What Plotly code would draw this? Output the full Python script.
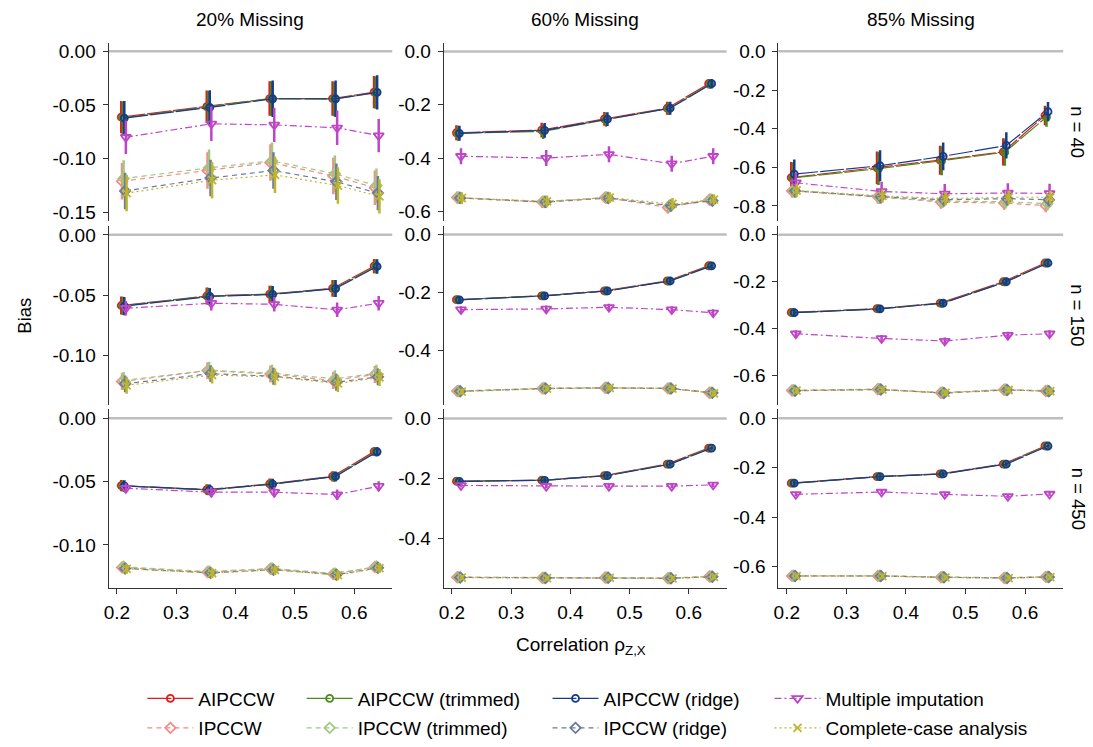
import plotly.graph_objects as go

# ---------------- data ----------------
rho = [0.212, 0.356, 0.462, 0.568, 0.638]
missing_labels = ["20% Missing", "60% Missing", "85% Missing"]
n_labels = ["n = 40", "n = 150", "n = 450"]
methods = ["AIPCCW", "IPCCW", "AIPCCW (trimmed)", "IPCCW (trimmed)",
           "AIPCCW (ridge)", "IPCCW (ridge)", "Multiple imputation",
           "Complete-case analysis"]

# bias, one list per panel: n=40 (20%,60%,85%), n=150 (...), n=450 (...)
bias_aipccw = [
    [-0.0613, -0.0515, -0.0440, -0.0440, -0.0380],
    [-0.305, -0.295, -0.253, -0.213, -0.121],
    [-0.653, -0.603, -0.563, -0.520, -0.332],
    [-0.0587, -0.0508, -0.0492, -0.0445, -0.0260],
    [-0.2256, -0.2120, -0.1950, -0.1607, -0.1080],
    [-0.332, -0.316, -0.292, -0.201, -0.121],
    [-0.0531, -0.0563, -0.0518, -0.0458, -0.0263],
    [-0.2100, -0.2066, -0.1910, -0.1527, -0.0990],
    [-0.2627, -0.2360, -0.2253, -0.1853, -0.1120],
]
bias_aipccw_trim = [
    [-0.0620, -0.0520, -0.0440, -0.0445, -0.0385],
    [-0.307, -0.300, -0.256, -0.214, -0.122],
    [-0.655, -0.607, -0.566, -0.522, -0.340],
    [-0.0590, -0.0510, -0.0493, -0.0447, -0.0262],
    [-0.2260, -0.2125, -0.1955, -0.1610, -0.1085],
    [-0.333, -0.317, -0.293, -0.202, -0.122],
    [-0.0533, -0.0565, -0.0520, -0.0460, -0.0265],
    [-0.2103, -0.2069, -0.1913, -0.1530, -0.0993],
    [-0.2630, -0.2363, -0.2256, -0.1856, -0.1123],
]
bias_aipccw_ridge = [
    [-0.0622, -0.0523, -0.0442, -0.0442, -0.0382],
    [-0.307, -0.296, -0.254, -0.213, -0.121],
    [-0.635, -0.592, -0.543, -0.487, -0.312],
    [-0.0592, -0.0512, -0.0495, -0.0446, -0.0263],
    [-0.2262, -0.2122, -0.1952, -0.1608, -0.1082],
    [-0.333, -0.317, -0.292, -0.201, -0.121],
    [-0.0534, -0.0564, -0.0519, -0.0459, -0.0264],
    [-0.2102, -0.2068, -0.1912, -0.1528, -0.0992],
    [-0.2629, -0.2362, -0.2255, -0.1855, -0.1122],
]
bias_ipccw = [
    [-0.1210, -0.1110, -0.1035, -0.1160, -0.1270],
    [-0.548, -0.565, -0.548, -0.585, -0.556],
    [-0.722, -0.752, -0.780, -0.785, -0.798],
    [-0.1219, -0.1128, -0.1156, -0.1210, -0.1160],
    [-0.5425, -0.5330, -0.5310, -0.5330, -0.5480],
    [-0.665, -0.660, -0.675, -0.662, -0.667],
    [-0.1177, -0.1214, -0.1188, -0.1229, -0.1174],
    [-0.5310, -0.5330, -0.5320, -0.5340, -0.5286],
    [-0.6387, -0.6387, -0.6440, -0.6467, -0.6427],
]
bias_ipccw_trim = [
    [-0.1185, -0.1085, -0.1020, -0.1140, -0.1250],
    [-0.548, -0.563, -0.548, -0.580, -0.555],
    [-0.720, -0.755, -0.775, -0.778, -0.788],
    [-0.1210, -0.1125, -0.1150, -0.1195, -0.1150],
    [-0.5420, -0.5325, -0.5305, -0.5325, -0.5475],
    [-0.664, -0.659, -0.674, -0.661, -0.666],
    [-0.1172, -0.1210, -0.1185, -0.1225, -0.1170],
    [-0.5305, -0.5325, -0.5315, -0.5335, -0.5281],
    [-0.6382, -0.6382, -0.6435, -0.6462, -0.6422],
]
bias_ipccw_ridge = [
    [-0.1300, -0.1180, -0.1110, -0.1215, -0.1320],
    [-0.550, -0.565, -0.550, -0.578, -0.560],
    [-0.722, -0.752, -0.768, -0.762, -0.768],
    [-0.1238, -0.1153, -0.1175, -0.1225, -0.1180],
    [-0.5430, -0.5335, -0.5315, -0.5335, -0.5485],
    [-0.666, -0.661, -0.676, -0.663, -0.668],
    [-0.1185, -0.1220, -0.1195, -0.1235, -0.1180],
    [-0.5315, -0.5335, -0.5325, -0.5345, -0.5291],
    [-0.6392, -0.6392, -0.6445, -0.6472, -0.6432],
]
bias_mi = [
    [-0.0800, -0.0675, -0.0685, -0.0712, -0.0785],
    [-0.393, -0.400, -0.386, -0.421, -0.393],
    [-0.680, -0.725, -0.737, -0.733, -0.735],
    [-0.0610, -0.0568, -0.0577, -0.0623, -0.0568],
    [-0.2600, -0.2575, -0.2520, -0.2600, -0.2710],
    [-0.423, -0.443, -0.454, -0.429, -0.423],
    [-0.0552, -0.0583, -0.0583, -0.0602, -0.0536],
    [-0.2240, -0.2264, -0.2264, -0.2264, -0.2220],
    [-0.3080, -0.2987, -0.3080, -0.3160, -0.3067],
]
bias_cc = [
    [-0.1320, -0.1200, -0.1150, -0.1250, -0.1350],
    [-0.550, -0.562, -0.548, -0.572, -0.556],
    [-0.720, -0.748, -0.762, -0.755, -0.755],
    [-0.1250, -0.1165, -0.1180, -0.1235, -0.1185],
    [-0.5440, -0.5340, -0.5310, -0.5340, -0.5500],
    [-0.666, -0.661, -0.675, -0.663, -0.668],
    [-0.1188, -0.1222, -0.1197, -0.1238, -0.1182],
    [-0.5318, -0.5338, -0.5328, -0.5348, -0.5294],
    [-0.6395, -0.6395, -0.6448, -0.6475, -0.6435],
]

# half-widths of the confidence intervals, per panel
ci_aipccw = [
    [0.015, 0.015, 0.016, 0.016, 0.015],
    [0.028, 0.028, 0.026, 0.024, 0.018],
    [0.080, 0.085, 0.075, 0.070, 0.050],
    [0.0075, 0.007, 0.007, 0.007, 0.006],
    [0.012, 0.011, 0.011, 0.010, 0.009],
    [0.018, 0.017, 0.016, 0.013, 0.010],
    [0.0045, 0.0042, 0.0042, 0.004, 0.0035],
    [0.008, 0.007, 0.007, 0.006, 0.005],
    [0.010, 0.009, 0.009, 0.008, 0.006],
]
ci_aipccw_ridge = [
    [0.016, 0.016, 0.017, 0.017, 0.016],
    [0.028, 0.028, 0.026, 0.024, 0.018],
    [0.075, 0.080, 0.072, 0.068, 0.050],
    [0.0075, 0.007, 0.007, 0.007, 0.006],
    [0.012, 0.011, 0.011, 0.010, 0.009],
    [0.018, 0.017, 0.016, 0.013, 0.010],
    [0.0045, 0.0042, 0.0042, 0.004, 0.0035],
    [0.008, 0.007, 0.007, 0.006, 0.005],
    [0.010, 0.009, 0.009, 0.008, 0.006],
]
ci_ipccw = [
    [0.017, 0.017, 0.017, 0.017, 0.016],
    [0.022, 0.022, 0.020, 0.022, 0.020],
    [0.035, 0.035, 0.035, 0.035, 0.035],
    [0.007, 0.007, 0.007, 0.007, 0.007],
    [0.011, 0.011, 0.011, 0.011, 0.011],
    [0.014, 0.014, 0.014, 0.014, 0.014],
    [0.004, 0.004, 0.004, 0.004, 0.004],
    [0.008, 0.008, 0.008, 0.008, 0.008],
    [0.010, 0.010, 0.010, 0.010, 0.010],
]
ci_mi = [
    [0.0155, 0.016, 0.016, 0.016, 0.0155],
    [0.030, 0.030, 0.030, 0.030, 0.030],
    [0.050, 0.050, 0.050, 0.050, 0.050],
    [0.006, 0.006, 0.006, 0.006, 0.006],
    [0.012, 0.012, 0.012, 0.012, 0.012],
    [0.015, 0.015, 0.015, 0.015, 0.015],
    [0.004, 0.004, 0.004, 0.004, 0.004],
    [0.007, 0.007, 0.007, 0.007, 0.007],
    [0.009, 0.009, 0.009, 0.009, 0.009],
]

# y tick values per panel
y_ticks = [
    [0.0, -0.05, -0.10, -0.15], [0.0, -0.2, -0.4, -0.6], [0.0, -0.2, -0.4, -0.6, -0.8],
    [0.0, -0.05, -0.10], [0.0, -0.2, -0.4], [0.0, -0.2, -0.4, -0.6],
    [0.0, -0.05, -0.10], [0.0, -0.2, -0.4], [0.0, -0.2, -0.4, -0.6],
]
x_ticks = [0.2, 0.3, 0.4, 0.5, 0.6]

# ---------------- styling ----------------
series = [
    (bias_aipccw, ci_aipccw),
    (bias_ipccw, ci_ipccw),
    (bias_aipccw_trim, ci_aipccw),
    (bias_ipccw_trim, ci_ipccw),
    (bias_aipccw_ridge, ci_aipccw_ridge),
    (bias_ipccw_ridge, ci_ipccw),
    (bias_mi, ci_mi),
    (bias_cc, ci_ipccw),
]
colors = ["#E31A1C", "#F38B87", "#4A8B1C", "#A2C880", "#163A8C", "#6B7B9E", "#BD45C6", "#BDB52E"]
dashes = ["24px,2px", "5px,4px", "24px,2px", "5px,4px", "24px,2px", "5px,4px", "7px,3px,2px,3px", "2px,3px"]
symbols = ["circle-open", "diamond-open", "circle-open", "diamond-open", "circle-open",
           "diamond-open", "triangle-down-open", "x-thin-open"]
msizes = [7, 8, 7, 8, 7, 8, 9, 8]
dodge = [-0.0045, -0.0032, -0.0019, -0.0006, 0.0006, 0.0019, 0.0032, 0.0045]

W, H = 1093, 747
col_px = [(104, 389), (440.7, 725), (777, 1063)]
row_px = [(42, 222), (227, 408), (413, 594)]
x_range = [0.186, 0.664]
y_ranges = [
    [-0.158, 0.0073], [-0.636, 0.030], [-0.878, 0.041],
    [-0.141, 0.0074], [-0.589, 0.030], [-0.725, 0.037],
    [-0.134, 0.007], [-0.567, 0.030], [-0.688, 0.036],
]
FONT = "Liberation Sans, Arial, sans-serif"
FS = 19

# legend positions (text start x, row center y) for each method
leg_pos = [(200, 706), (200, 736), (360, 706), (360, 736),
           (607, 706), (607, 736), (830, 706), (830, 736)]

fig = go.Figure()
layout = dict(
    width=W, height=H, margin=dict(l=0, r=0, t=0, b=0),
    plot_bgcolor="white", paper_bgcolor="white",
    font=dict(family=FONT, size=FS, color="black"),
    shapes=[], annotations=[],
)


def fmt(v, dec):
    s = f"{v:.{dec}f}"
    return s.lstrip("-") if abs(v) < 1e-12 else s


for k in range(9):
    r, c = divmod(k, 3)
    sfx = "" if k == 0 else str(k + 1)
    x0, x1 = col_px[c]
    y0, y1 = row_px[r]
    layout["xaxis" + sfx] = dict(
        domain=[x0 / W, x1 / W], range=x_range, anchor="y" + sfx,
        showgrid=False, zeroline=False,
        showline=(r == 2), linecolor="#333", linewidth=1,
        ticks="outside" if r == 2 else "", ticklen=5, tickcolor="#333",
        showticklabels=(r == 2), tickvals=x_ticks,
        ticktext=[fmt(v, 1) for v in x_ticks], ticklabelstandoff=2,
        tickfont=dict(size=FS, color="black"),
    )
    dec = 2 if c == 0 else 1
    layout["yaxis" + sfx] = dict(
        domain=[1 - y1 / H, 1 - y0 / H], range=y_ranges[k], anchor="x" + sfx,
        showgrid=False, zeroline=False,
        showline=True, linecolor="#333", linewidth=1,
        ticks="outside", ticklen=5, tickcolor="#333",
        tickvals=y_ticks[k], ticktext=[fmt(v, dec) for v in y_ticks[k]],
        ticklabelstandoff=3,
        tickfont=dict(size=FS, color="black"),
    )
    layout["shapes"].append(dict(
        type="line", xref=f"x{sfx} domain", yref="y" + sfx,
        x0=0, x1=1, y0=0, y1=0, layer="below",
        line=dict(color="#BEBEBE", width=2.5),
    ))
    for m in range(8):
        vals, ci = series[m]
        xs = [x + dodge[m] for x in rho]
        fig.add_trace(go.Scatter(
            x=xs, y=vals[k], xaxis="x" + sfx, yaxis="y" + sfx,
            mode="lines+markers", name=methods[m],
            legend="legend" if m == 0 else f"legend{m + 1}",
            showlegend=(k == 0),
            line=dict(color=colors[m], width=1.2, dash=dashes[m]),
            marker=dict(symbol=symbols[m], size=msizes[m], color=colors[m],
                        line=dict(color=colors[m], width=1.8)),
            error_y=dict(type="data", array=ci[k], visible=True,
                         color=colors[m], thickness=2.5, width=0),
        ))

# column / row titles
for c in range(3):
    x0, x1 = col_px[c]
    layout["annotations"].append(dict(
        text=missing_labels[c], x=(x0 + x1) / 2 / W, y=1 - 18 / H,
        xref="paper", yref="paper", showarrow=False,
        font=dict(size=FS, color="black"), xanchor="center", yanchor="middle"))
for r in range(3):
    y0, y1 = row_px[r]
    layout["annotations"].append(dict(
        text=n_labels[r], x=1078 / W, y=1 - (y0 + y1) / 2 / H,
        xref="paper", yref="paper", showarrow=False, textangle=90,
        font=dict(size=18.5, color="black"), xanchor="center", yanchor="middle"))
layout["annotations"].append(dict(
    text="Bias", x=20 / W, y=1 - 318 / H, xref="paper", yref="paper",
    showarrow=False, textangle=-90, font=dict(size=18.5, color="black"),
    xanchor="center", yanchor="middle"))
layout["annotations"].append(dict(
    text="Correlation ρ<sub>Z,X</sub>", x=579 / W, y=1 - 653 / H,
    xref="paper", yref="paper", showarrow=False,
    font=dict(size=FS, color="black"), xanchor="center", yanchor="middle"))

# legends
for m in range(8):
    key = "legend" if m == 0 else f"legend{m + 1}"
    tx, ty = leg_pos[m]
    layout[key] = dict(
        x=(tx - 62) / W, y=1 - ty / H, xanchor="left", yanchor="middle",
        xref="paper", yref="paper",
        bgcolor="rgba(0,0,0,0)", borderwidth=0, itemwidth=46,
        font=dict(size=FS, color="black", family=FONT),
    )

fig.update_layout(**layout)
fig.write_html("out.html")
